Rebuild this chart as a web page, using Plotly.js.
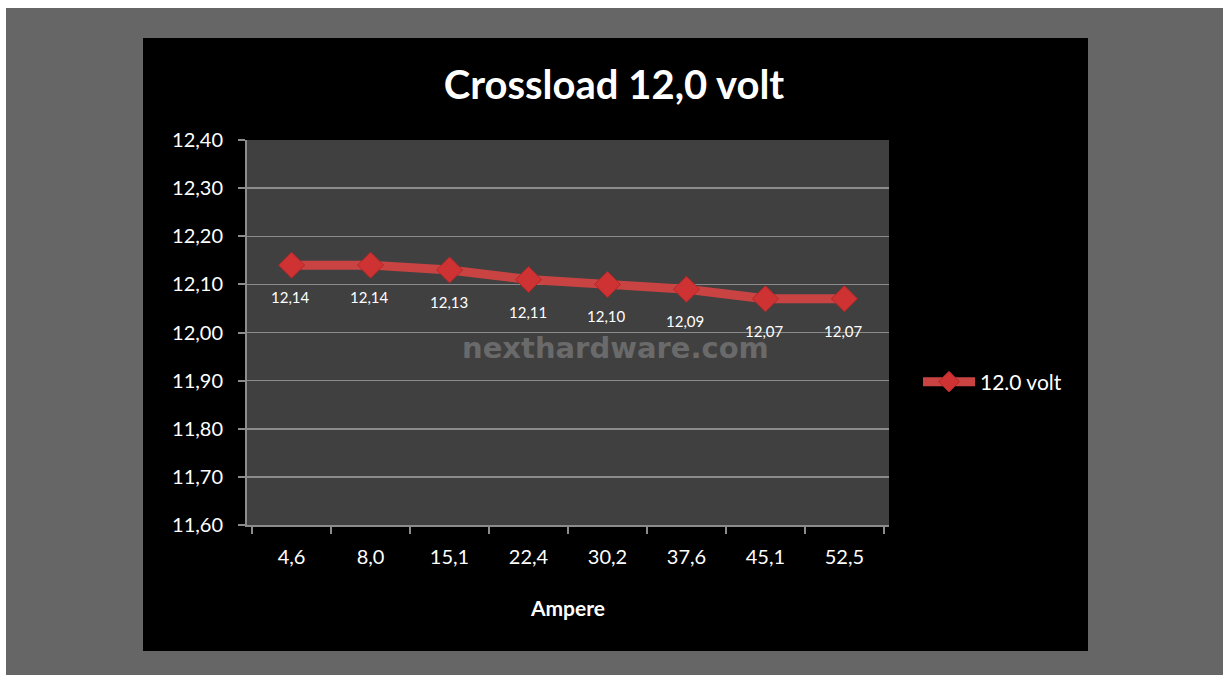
<!DOCTYPE html>
<html>
<head>
<meta charset="utf-8">
<script src="https://cdn.plot.ly/plotly-3.0.1.min.js"></script>
<style>html,body{margin:0;padding:0;background:#fff;}#chart{width:1223px;height:675px;}</style>
</head>
<body>
<div id="chart"></div>
<script>
const categories = ["4,6", "8,0", "15,1", "22,4", "30,2", "37,6", "45,1", "52,5"];
const values = [12.14, 12.14, 12.13, 12.11, 12.10, 12.09, 12.07, 12.07];
const seriesName = "12.0 volt";
const yTicks = [11.60, 11.70, 11.80, 11.90, 12.00, 12.10, 12.20, 12.30, 12.40];

const W = 1223, H = 675;
const L = 247, R = 889, T = 140, B = 525;
const px = x => (x - L) / (R - L);
const py = y => (B - y) / (B - T);

const FONT = "Lato, 'Open Sans', sans-serif";

const trace = {
  x: categories,
  y: values,
  type: "scatter",
  mode: "lines+markers",
  name: seriesName,
  line: {color: "#c94343", width: 9},
  marker: {symbol: "diamond", size: 20, color: "#cf3232", line: {color: "#b02828", width: 1}},
  hoverinfo: "skip"
};

const annotations = values.map((v, i) => ({
  x: categories[i], y: v, xref: "x", yref: "y",
  text: v.toFixed(2).replace(".", ","),
  showarrow: false, yshift: -32, xshift: -1,
  font: {family: FONT, size: 15, color: "#ffffff"}
}));
annotations.push({
  x: px(615), y: py(348), xref: "paper", yref: "paper",
  text: "<b>nexthardware.com</b>", showarrow: false,
  font: {family: "'DejaVu Sans', Verdana, sans-serif", size: 29, color: "#6a6a6a"}
});

const shapes = [
  {type: "rect", xref: "paper", yref: "paper", x0: px(143), x1: px(1088), y0: py(651), y1: py(38), fillcolor: "#000000", line: {width: 0}, layer: "below"},
  {type: "rect", xref: "paper", yref: "paper", x0: 0, x1: 1, y0: 0, y1: 1, fillcolor: "#404040", line: {width: 0}, layer: "below"},
  {type: "rect", xref: "paper", yref: "paper", x0: px(-5), x1: px(W + 5), y0: py(8), y1: py(-5), fillcolor: "#ffffff", line: {width: 0}, layer: "below"},
  {type: "rect", xref: "paper", yref: "paper", x0: px(-5), x1: px(6), y0: py(H + 5), y1: py(-5), fillcolor: "#ffffff", line: {width: 0}, layer: "below"}
];

const layout = {
  width: W, height: H,
  margin: {l: L, r: W - R, t: T, b: H - B, pad: 0},
  paper_bgcolor: "#666666",
  plot_bgcolor: "rgba(0,0,0,0)",
  separators: ",.",
  font: {family: FONT, color: "#ffffff"},
  title: {
    text: "<b>Crossload 12,0 volt</b>",
    xref: "container", yref: "container",
    x: 614 / W, y: 1 - 85 / H, xanchor: "center", yanchor: "middle",
    font: {family: FONT, size: 40, color: "#ffffff"}
  },
  xaxis: {
    type: "category",
    tickson: "boundaries",
    ticks: "outside", ticklen: 7, tickwidth: 2, tickcolor: "#8c8c8c",
    showline: true, linecolor: "#8c8c8c", linewidth: 2,
    showgrid: false, zeroline: false,
    tickfont: {family: FONT, size: 20, color: "#ffffff"},
    ticklabelstandoff: 13,
    title: {text: "<b>Ampere</b>", standoff: 34, font: {family: FONT, size: 21, color: "#ffffff"}},
    fixedrange: true
  },
  yaxis: {
    range: [11.6, 12.4],
    tickvals: yTicks,
    tickformat: ".2f",
    ticks: "outside", ticklen: 7, tickwidth: 2, tickcolor: "#8c8c8c",
    showline: true, linecolor: "#8c8c8c", linewidth: 2,
    showgrid: true, gridcolor: "#8c8c8c", gridwidth: 1.5,
    zeroline: false,
    tickfont: {family: FONT, size: 20, color: "#ffffff"},
    ticklabelstandoff: 11,
    fixedrange: true
  },
  showlegend: true,
  legend: {
    x: px(918), y: py(382), xanchor: "left", yanchor: "middle",
    bgcolor: "rgba(0,0,0,0)",
    font: {family: FONT, size: 21, color: "#ffffff"},
    itemwidth: 52
  },
  shapes: shapes,
  annotations: annotations
};

Plotly.newPlot("chart", [trace], layout, {displayModeBar: false, staticPlot: true});
</script>
</body>
</html>
